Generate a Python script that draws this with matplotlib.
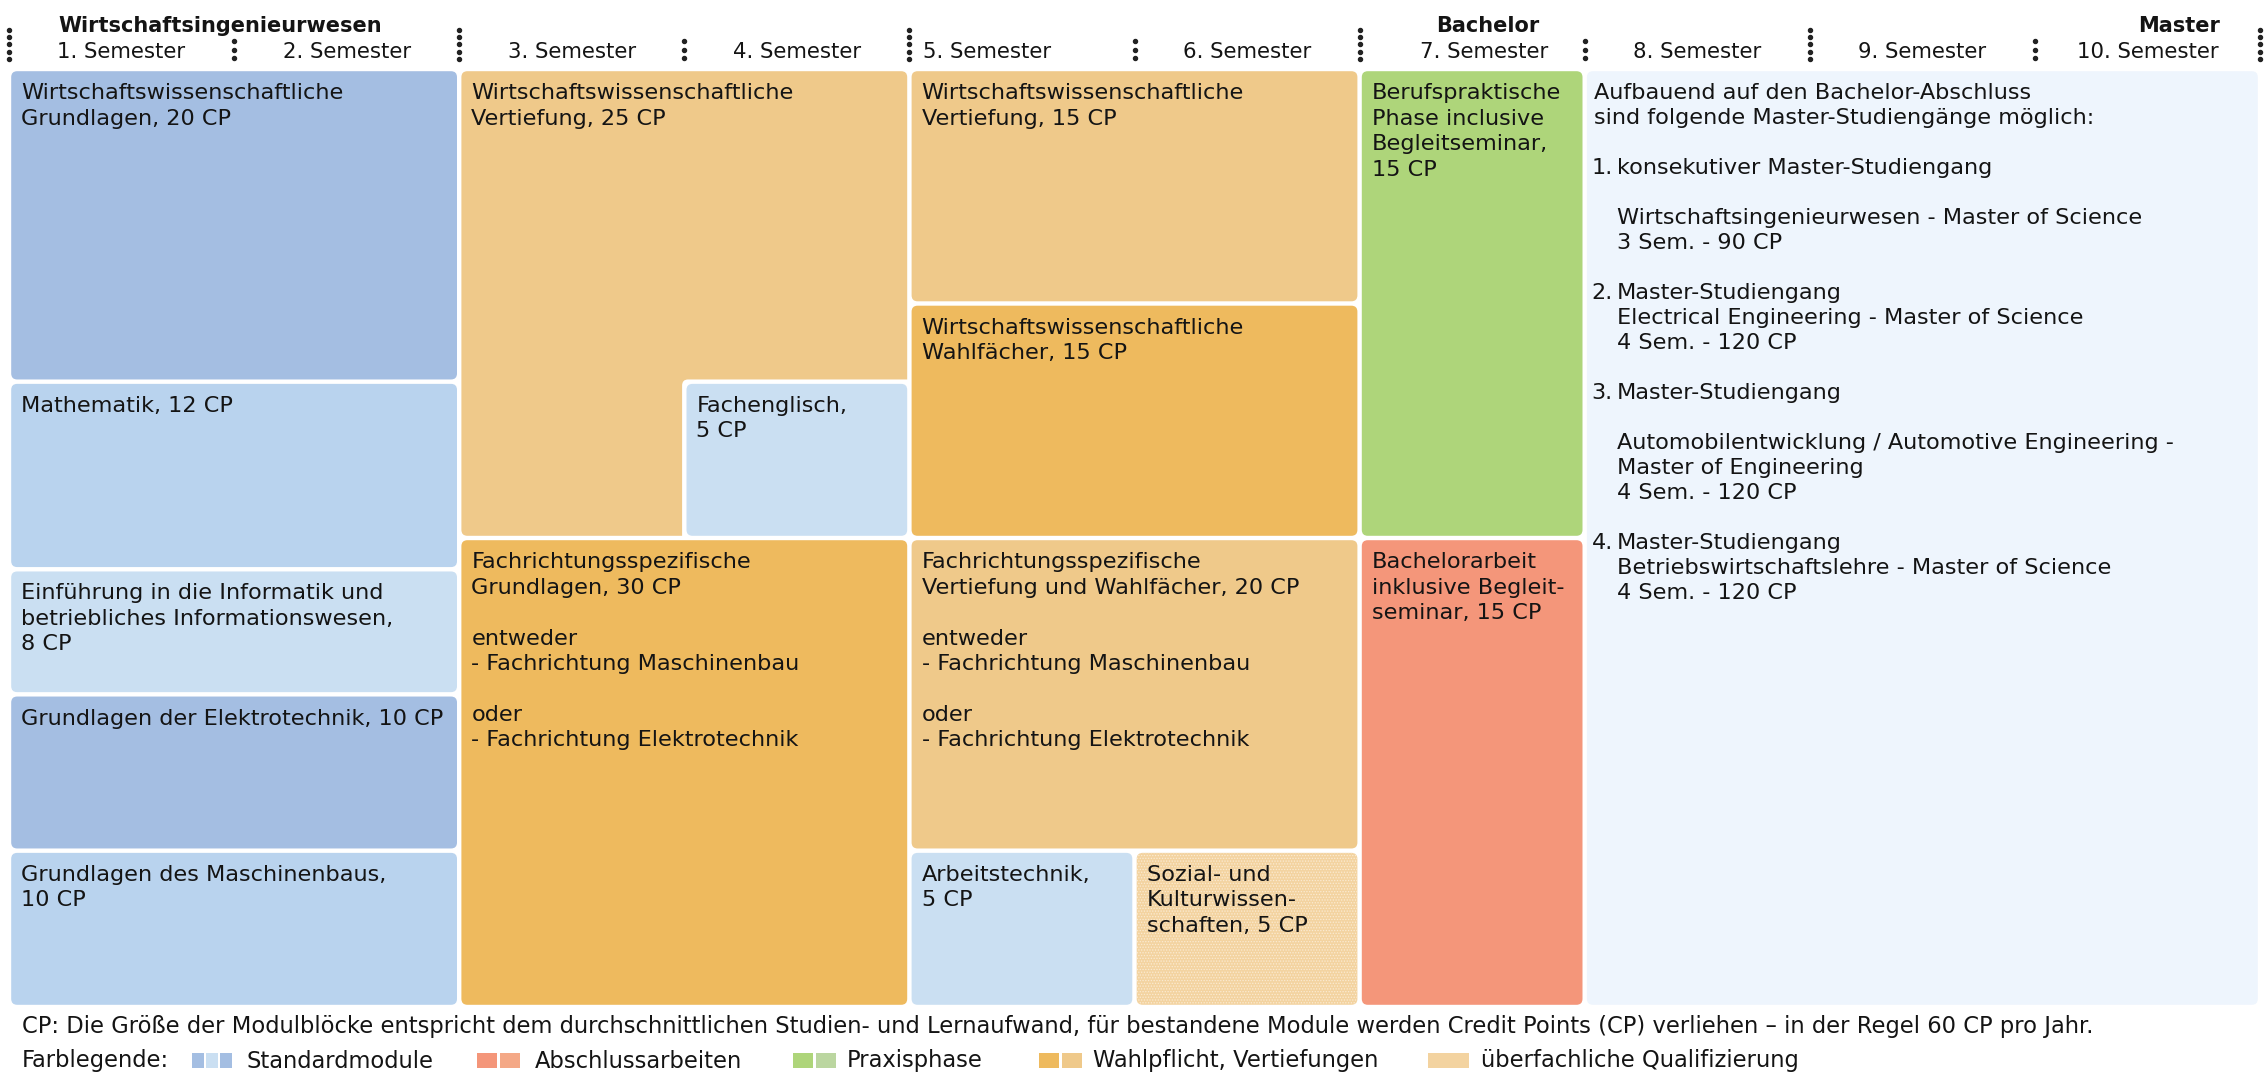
import matplotlib
matplotlib.use("Agg")
import matplotlib.pyplot as plt
from matplotlib.patches import FancyBboxPatch, Rectangle

# ---------------- data ----------------
semester_labels = ["1. Semester", "2. Semester", "3. Semester", "4. Semester",
                   "5. Semester", "6. Semester", "7. Semester", "8. Semester",
                   "9. Semester", "10. Semester"]
degree_labels = ["Wirtschaftsingenieurwesen", "Bachelor", "Master"]

# modules: text, CP, first semester, last semester, kind, group id
module_names = [
    "Wirtschaftswissenschaftliche\nGrundlagen, 20 CP",
    "Mathematik, 12 CP",
    "Einführung in die Informatik und\nbetriebliches Informationswesen,\n8 CP",
    "Grundlagen der Elektrotechnik, 10 CP",
    "Grundlagen des Maschinenbaus,\n10 CP",
    "Wirtschaftswissenschaftliche\nVertiefung, 25 CP",
    "",
    "Fachenglisch,\n5 CP",
    "Fachrichtungsspezifische\nGrundlagen, 30 CP\n\nentweder\n- Fachrichtung Maschinenbau\n\noder\n- Fachrichtung Elektrotechnik",
    "Wirtschaftswissenschaftliche\nVertiefung, 15 CP",
    "Wirtschaftswissenschaftliche\nWahlfächer, 15 CP",
    "Fachrichtungsspezifische\nVertiefung und Wahlfächer, 20 CP\n\nentweder\n- Fachrichtung Maschinenbau\n\noder\n- Fachrichtung Elektrotechnik",
    "Arbeitstechnik,\n5 CP",
    "Sozial- und\nKulturwissen-\nschaften, 5 CP",
    "Berufspraktische\nPhase inclusive\nBegleitseminar,\n15 CP",
    "Bachelorarbeit\ninklusive Begleit-\nseminar, 15 CP",
]
module_cp = [20, 12, 8, 10, 10, 20, 5, 5, 30, 15, 15, 20, 5, 5, 15, 15]
module_first = [1, 1, 1, 1, 1, 3, 3, 4, 3, 5, 5, 5, 5, 6, 7, 7]
module_last = [2, 2, 2, 2, 2, 4, 3, 4, 4, 6, 6, 6, 5, 6, 7, 7]
module_group = [0, 1, 2, 3, 4, 5, 5, 6, 7, 8, 9, 10, 11, 12, 13, 14]
module_kind = ["std_dark", "std_mid", "std_light", "std_dark", "std_mid",
               "wahl_light", "wahl_light", "std_light", "wahl_dark",
               "wahl_light", "wahl_dark", "wahl_light", "std_light", "ueber",
               "praxis", "abschluss"]

master_first, master_last = 8, 10
master_intro = ["Aufbauend auf den Bachelor-Abschluss",
                "sind folgende Master-Studiengänge möglich:"]
master_programs = [
    ("1.", "konsekutiver Master-Studiengang",
     ["", "Wirtschaftsingenieurwesen - Master of Science", "3 Sem. - 90 CP"]),
    ("2.", "Master-Studiengang",
     ["Electrical Engineering - Master of Science", "4 Sem. - 120 CP"]),
    ("3.", "Master-Studiengang",
     ["", "Automobilentwicklung / Automotive Engineering -",
      "Master of Engineering", "4 Sem. - 120 CP"]),
    ("4.", "Master-Studiengang",
     ["Betriebswirtschaftslehre - Master of Science", "4 Sem. - 120 CP"]),
]

footnote = ("CP: Die Größe der Modulblöcke entspricht dem durchschnittlichen "
            "Studien- und Lernaufwand, für bestandene Module werden Credit "
            "Points (CP) verliehen – in der Regel 60 CP pro Jahr.")
legend_title = "Farblegende:"
legend_labels = ["Standardmodule", "Abschlussarbeiten", "Praxisphase",
                 "Wahlpflicht, Vertiefungen", "überfachliche Qualifizierung"]

# ---------------- style ----------------
colors = {
    "std_dark": "#A4BEE2",
    "std_mid": "#B9D3EE",
    "std_light": "#CADFF2",
    "wahl_light": "#EFC98A",
    "wahl_dark": "#EEBA5E",
    "ueber": "#F3D3A0",
    "praxis": "#AED57A",
    "abschluss": "#F4967A",
    "master": "#EEF5FD",
}
legend_swatches = [
    ["#A4BEE2", "#CADFF2", "#A4BEE2"],
    ["#F4967A", "#F4A886"],
    ["#AED57A", "#BBD6A0"],
    ["#EEBA5E", "#EFC98A"],
    ["#F3D3A0"],
]
sem_label_shift_px = [0, 0, 0, 0, -35, 0, 12, 0, 0, 0]
TXT = "#141414"
FONT = "DejaVu Sans"
plt.rcParams["font.family"] = FONT
FS = 16.1

W, H, DPI = 2268, 1081, 100
fig = plt.figure(figsize=(W / DPI, H / DPI), dpi=DPI)
fig.patch.set_facecolor("white")

AX_L, AX_R, AX_T, AX_B = 9, 2260, 69, 1007
ax = fig.add_axes([AX_L / W, 1 - AX_B / H, (AX_R - AX_L) / W, (AX_B - AX_T) / H])
N_SEM = 10
ax.set_xlim(0, N_SEM)
ax.set_ylim(30, 0)
ax.axis("off")

px_x = N_SEM / (AX_R - AX_L)
px_y = 30 / (AX_B - AX_T)
GAP = 2.2  # half gap in px
RAD = 6 * px_x
ASP = px_y / px_x


def rbox(x0, y0, x1, y1, fc, z=1, inset=GAP, **kw):
    p = FancyBboxPatch((x0 + inset * px_x, y0 + inset * px_y),
                       (x1 - x0) - 2 * inset * px_x, (y1 - y0) - 2 * inset * px_y,
                       boxstyle=f"round,pad=0,rounding_size={RAD}",
                       mutation_aspect=ASP, fc=fc, ec="none", lw=0, zorder=z, **kw)
    ax.add_patch(p)
    return p


# stacking of modules within the semesters
level = [0.0] * (N_SEM + 1)
pieces = []
for name, cp, f, l, g, k in zip(module_names, module_cp, module_first,
                                module_last, module_group, module_kind):
    n = l - f + 1
    h = cp / n
    y0 = max(level[s] for s in range(f, l + 1))
    for s in range(f, l + 1):
        level[s] = y0 + h
    pieces.append(dict(name=name, x0=f - 1, x1=l, y0=y0, y1=y0 + h, g=g, k=k))

groups = {}
for p in pieces:
    groups.setdefault(p["g"], []).append(p)

drawn_boxes = []
z = 1
for g, plist in groups.items():
    x0 = min(p["x0"] for p in plist)
    x1 = max(p["x1"] for p in plist)
    y0 = min(p["y0"] for p in plist)
    y1 = max(p["y1"] for p in plist)
    for bx in drawn_boxes:
        if x0 >= bx[0] and x1 <= bx[1] and y0 >= bx[2] and y1 <= bx[3]:
            rbox(x0, y0, x1 + 0.02, y1 + 0.2, "white", z=z, inset=-GAP)
            z += 1
    k = plist[0]["k"]
    rbox(x0, y0, x1, y1, colors[k], z=z)
    if k == "ueber":
        with plt.rc_context({"hatch.linewidth": 0.6}):
            hp = rbox(x0, y0, x1, y1, "none", z=z + 0.5, hatch="......")
            hp.set_edgecolor("#FBEBD2")
    if len(plist) > 1:
        drawn_boxes.append((x0, x1, y0, y1))
    z += 1
    label = plist[0]["name"]
    ax.text(x0 + (GAP + 10) * px_x, y0 + (GAP + 12) * px_y, label,
            ha="left", va="top", fontsize=FS, color=TXT,
            linespacing=1.34, zorder=50)

# master block
rbox(master_first - 1, 0, master_last, 30, colors["master"], z=z)
mx = master_first - 1 + (GAP + 7) * px_x
mx_ind = master_first - 1 + (GAP + 30) * px_x
line_h = 25 * px_y
y = (GAP + 28) * px_y
for t in master_intro:
    ax.text(mx, y, t, ha="left", va="baseline", fontsize=FS, color=TXT, zorder=50)
    y += line_h
y += line_h
for num, title, details in master_programs:
    ax.text(mx_ind - 4 * px_x, y, num, ha="right", va="baseline", fontsize=FS,
            color=TXT, zorder=50)
    ax.text(mx_ind, y, title, ha="left", va="baseline", fontsize=FS,
            color=TXT, zorder=50)
    y += line_h
    for d in details:
        ax.text(mx_ind, y, d, ha="left", va="baseline", fontsize=FS,
                color=TXT, zorder=50)
        y += line_h
    y += line_h

# header: semester labels and dotted separators
y_sem = (52 - AX_T) * px_y
for i, lab in enumerate(semester_labels):
    ax.text(i + 0.5 + sem_label_shift_px[i] * px_x, y_sem, lab, ha="center",
            va="center", fontsize=15.3, color=TXT, clip_on=False)
for b in range(N_SEM + 1):
    tall = b in (0, 2, 4, 6, 8, 10)
    if tall:
        ys = [(30 + 7.2 * j - AX_T) * px_y for j in range(5)]
    else:
        ys = [(41 + 8.5 * j - AX_T) * px_y for j in range(3)]
    ax.plot([b] * len(ys), ys, ls="none", marker="o", ms=2.9, color="#222222",
            clip_on=False)

y_deg = (26 - AX_T) * px_y
ax.text(0 + 49 * px_x, y_deg, degree_labels[0], ha="left", va="center",
        fontsize=15, fontweight="bold", color=TXT, clip_on=False)
ax.text(7 - 45 * px_x, y_deg, degree_labels[1], ha="right", va="center",
        fontsize=15, fontweight="bold", color=TXT, clip_on=False)
ax.text(10 - 40 * px_x, y_deg, degree_labels[2], ha="right", va="center",
        fontsize=15, fontweight="bold", color=TXT, clip_on=False)

# footer
FFS = 16.3
fig.text(22 / W, 1 - 1027 / H, footnote, ha="left", va="center", fontsize=FFS,
         color=TXT)
fig.text(22 / W, 1 - 1061 / H, legend_title, ha="left", va="center",
         fontsize=FFS, color=TXT)
sw_x = [192, 477, 793, 1039, 1428]
txt_x = [246, 535, 847, 1093, 1481]
for xs, cols, lab, tx in zip(sw_x, legend_swatches, legend_labels, txt_x):
    n = len(cols)
    if n == 1:
        wsw, step = 41, 0
    elif n == 2:
        wsw, step = 20, 23
    else:
        wsw, step = 12, 14
    for j, c in enumerate(cols):
        fig.add_artist(Rectangle(((xs + j * step) / W, 1 - 1068 / H), wsw / W,
                                 15 / H, transform=fig.transFigure, fc=c,
                                 ec="none"))
    fig.text(tx / W, 1 - 1061 / H, lab, ha="left", va="center", fontsize=FFS,
             color=TXT)

fig.savefig("out.png", dpi=DPI, facecolor="white")
